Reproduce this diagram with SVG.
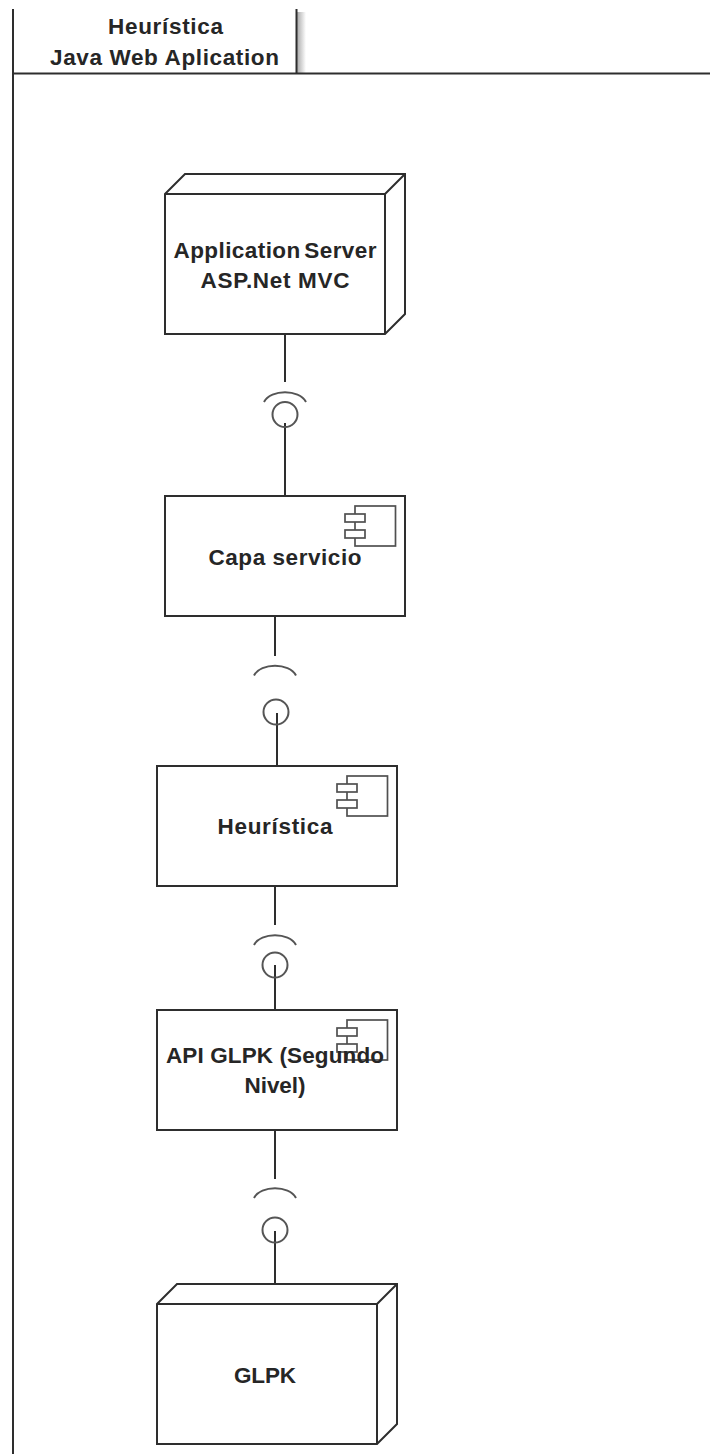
<svg xmlns="http://www.w3.org/2000/svg" width="710" height="1454" viewBox="0 0 710 1454">
<style>
.s{fill:none;stroke:#2e2e2e;stroke-width:2}
.c{fill:none;stroke:#555;stroke-width:2}
.b{fill:#fff;stroke:#2e2e2e;stroke-width:2}
.i{fill:#fff;stroke:#505050;stroke-width:1.700}
.t{font-family:"Liberation Sans",Arial,sans-serif;font-weight:bold;font-size:22.500px;fill:#262626;text-anchor:middle}
</style>
<defs>
<linearGradient id="shadow" x1="0" x2="1" y1="0" y2="0"><stop offset="0" stop-color="#aaa"/><stop offset="1" stop-color="#fff"/></linearGradient>
<g id="icon">
<rect class="i" x="10" y="0" width="40.500" height="40"/>
<rect class="i" x="0" y="8" width="20" height="8"/>
<rect class="i" x="0" y="24" width="20" height="8"/>
</g>
<path id="arc" class="c" d="M-21 10C-14 -3 14 -3 21 10"/>
<circle id="ball" class="c" r="12.500"/>
</defs>
<rect width="710" height="1454" fill="#fff"/>
<g id="frame">
<rect x="297" y="12" width="9" height="61" fill="url(#shadow)"/>
<path class="s" d="M13 9V1454M13 73.500H710M296.500 9V73"/>
<text class="t" x="165.500" y="34" textLength="115" lengthAdjust="spacing">Heurística</text>
<text class="t" x="164.500" y="64.500" textLength="229" lengthAdjust="spacing">Java Web Aplication</text>
</g>
<g id="connectors">
<path class="s" d="M285 334V382M285 423V496M275 616V656M277 713V766M275 886V925M275 965V1010M275 1130V1179M275 1231V1285"/>
<use href="#arc" x="285" y="392"/>
<use href="#ball" x="285" y="414.500"/>
<use href="#arc" x="275" y="665.500"/>
<use href="#ball" x="276" y="712"/>
<use href="#arc" x="275" y="935"/>
<use href="#ball" x="275" y="965"/>
<use href="#arc" x="275" y="1188"/>
<use href="#ball" x="275" y="1230"/>
</g>
<g id="node-appserver">
<path class="b" d="M165 194L185 174H405V314L385 334H165Z"/>
<path class="s" d="M165 194H385V334M385 194L405 174"/>
<text class="t" x="275" y="258" textLength="203" lengthAdjust="spacing" word-spacing="-3">Application Server</text>
<text class="t" x="275" y="288" textLength="149" lengthAdjust="spacing">ASP.Net MVC</text>
</g>
<g id="node-capa">
<rect class="b" x="165" y="496" width="240" height="120"/>
<use href="#icon" x="345" y="506"/>
<text class="t" x="285" y="565" textLength="153" lengthAdjust="spacing">Capa servicio</text>
</g>
<g id="node-heuristica">
<rect class="b" x="157" y="766" width="240" height="120"/>
<use href="#icon" x="337" y="776"/>
<text class="t" x="275" y="834" textLength="115" lengthAdjust="spacing">Heurística</text>
</g>
<g id="node-api">
<rect class="b" x="157" y="1010" width="240" height="120"/>
<use href="#icon" x="337" y="1020"/>
<text class="t" x="275" y="1063" textLength="218" lengthAdjust="spacing">API GLPK (Segundo</text>
<text class="t" x="275" y="1093" textLength="61" lengthAdjust="spacing">Nivel)</text>
</g>
<g id="node-glpk">
<path class="b" d="M157 1304L177 1284H397V1424L377 1444H157Z"/>
<path class="s" d="M157 1304H377V1444M377 1304L397 1284"/>
<text class="t" x="265" y="1383" textLength="62" lengthAdjust="spacing">GLPK</text>
</g>
</svg>
